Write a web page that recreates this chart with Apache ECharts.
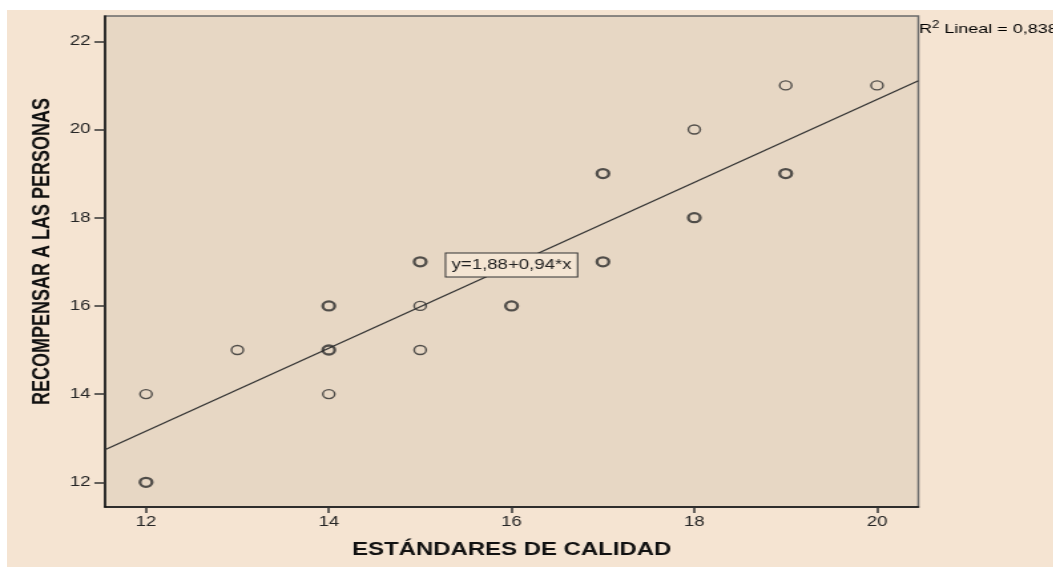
<!DOCTYPE html>
<html>
<head>
<meta charset="utf-8">
<script src="https://cdn.jsdelivr.net/npm/echarts@6/dist/echarts.min.js"></script>
<style>
  html, body { margin: 0; padding: 0; background: #ffffff; overflow: hidden; }
  #paper { position: absolute; left: 7px; top: 10px; right: 0; bottom: 0; background: #F5E4D2; }
  #chart { position: absolute; left: 0; top: 0; height: 567px; transform-origin: 0 0; }
</style>
</head>
<body>
<div id="paper"></div>
<div id="chart"></div>
<script>
// Estándares de calidad vs. recompensar a las personas (one point per case group)
const calidad   = [12, 12, 13, 14, 14, 14, 15, 15, 15, 16, 17, 17, 18, 18, 19, 19, 20];
const recompensa = [14, 12, 15, 16, 15, 14, 17, 16, 15, 16, 19, 17, 20, 18, 21, 19, 21];
// number of cases sharing the same coordinates
const casos     = [1, 2, 1, 2, 2, 1, 2, 1, 1, 2, 2, 2, 1, 2, 1, 2, 1];

const xTicks = [12, 14, 16, 18, 20];
const yTicks = [12, 14, 16, 18, 20, 22];

// fitted line: y = 1,88 + 0,94*x  (R² = 0,838)
const intercepto = 1.88;
const pendiente = 0.94;
const r2 = '0,838';

const xMin = 11.551, xMax = 20.452;
const yMin = 11.44, yMax = 22.574;

// the plot is drawn on a narrower canvas and widened horizontally
const SX = 1.33;
const W = 1053 / SX;
const el = document.getElementById('chart');
el.style.width = W + 'px';
el.style.transform = 'scaleX(' + SX + ')';

const chart = echarts.init(el, null, { renderer: 'canvas' });

const puntos = calidad.map((x, i) => ({
  value: [x, recompensa[i]],
  itemStyle: { borderWidth: casos[i] > 1 ? 2.3 : 1.4 }
}));

const ajuste = [xMin, xMax].map(x => [x, intercepto + pendiente * x]);

const tickFont = { fontFamily: 'Liberation Sans, Arial, sans-serif', fontSize: 14, color: '#262626' };

chart.setOption({
  animation: false,
  backgroundColor: 'transparent',
  grid: {
    left: 105 / SX, right: (1053 - 918) / SX, top: 16, bottom: 60,
    show: true, backgroundColor: '#E7D7C4', borderColor: '#6a6a6a', borderWidth: 1.5
  },
  xAxis: {
    type: 'value', min: xMin, max: xMax,
    name: 'ESTÁNDARES DE CALIDAD', nameLocation: 'middle', nameGap: 34,
    nameTextStyle: { fontFamily: 'Liberation Sans, Arial, sans-serif', fontWeight: 'bold', fontSize: 18, color: '#111' },
    axisLine: { show: true, lineStyle: { color: '#111', width: 1.5 } },
    axisTick: { show: true, length: 6, customValues: xTicks, lineStyle: { color: '#333', width: 1.5 } },
    axisLabel: Object.assign({ customValues: xTicks, margin: 8 }, tickFont),
    splitLine: { show: false }
  },
  yAxis: {
    type: 'value', min: yMin, max: yMax,
    name: 'RECOMPENSAR A LAS PERSONAS', nameLocation: 'middle', nameGap: 37,
    nameTextStyle: {
      fontFamily: 'Liberation Sans Narrow, Liberation Sans, Arial, sans-serif',
      fontWeight: 'bold', fontSize: 18, color: '#111',
      padding: [0, 0, 0, 20]
    },
    axisLine: { show: true, lineStyle: { color: '#111', width: 1.5 } },
    axisTick: { show: true, length: 8, customValues: yTicks, lineStyle: { color: '#333', width: 1.5 } },
    axisLabel: Object.assign({ customValues: yTicks, margin: 11 }, tickFont),
    splitLine: { show: false }
  },
  series: [
    {
      type: 'line',
      data: ajuste,
      showSymbol: false,
      symbol: 'none',
      clip: true,
      lineStyle: { color: '#333', width: 1.3 },
      silent: true,
      z: 2,
      markPoint: {
        symbol: 'rect',
        symbolSize: 0,
        data: [{ coord: [16, 16.93] }],
        label: {
          show: true,
          position: 'inside',
          formatter: 'y=' + intercepto.toFixed(2).replace('.', ',') + '+' + pendiente.toFixed(2).replace('.', ',') + '*x',
          fontFamily: 'Liberation Sans, Arial, sans-serif',
          fontSize: 14,
          lineHeight: 16,
          color: '#222',
          backgroundColor: '#F4E5D3',
          borderColor: '#333',
          borderWidth: 1,
          padding: [4, 4, 3, 4]
        }
      }
    },
    {
      type: 'scatter',
      data: puntos,
      symbol: 'circle',
      symbolSize: 9,
      itemStyle: { color: 'rgba(0,0,0,0)', borderColor: '#2a2a2a' },
      z: 3
    }
  ],
  graphic: [
    {
      type: 'text',
      left: 919 / SX,
      top: 20,
      style: {
        text: '{a|R}{s|2}{a| Lineal = ' + r2 + '}',
        rich: {
          a: { fontFamily: 'Liberation Sans, Arial, sans-serif', fontSize: 13.5, color: '#222', verticalAlign: 'bottom', lineHeight: 16 },
          s: { fontFamily: 'Liberation Sans, Arial, sans-serif', fontSize: 10, color: '#222', verticalAlign: 'top', lineHeight: 16, padding: [0, 0, 6, 0] }
        }
      }
    }
  ]
});
</script>
</body>
</html>
